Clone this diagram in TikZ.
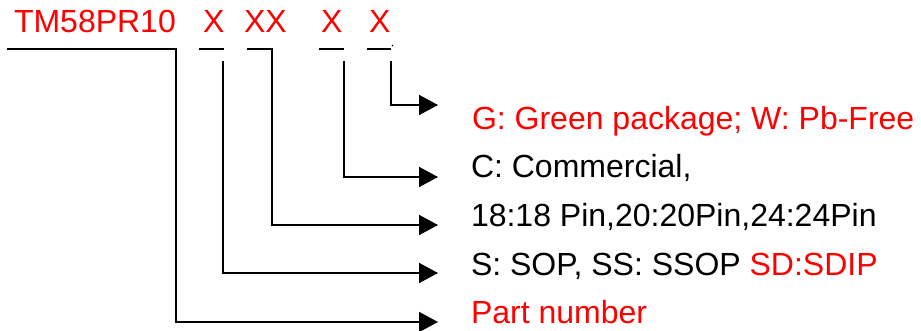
\documentclass[tikz,border=0pt]{standalone}
\usepackage{fontspec}
\setmainfont{Liberation Sans}
\usetikzlibrary{arrows.meta}
\definecolor{pnred}{RGB}{255,0,0}
\begin{document}
\begin{tikzpicture}[x=1pt,y=-1pt,
  txt/.style={anchor=base west,inner sep=0pt,outer sep=0pt,font=\fontsize{32}{38}\selectfont},
  redtxt/.style={txt,text=pnred},
  conn/.style={line width=1.6pt,line join=miter},
  arr/.style={conn,-{Triangle[length=19pt,width=20pt]}}]
\useasboundingbox (0,0) rectangle (921,331);
% header
\node[redtxt] (pn) at (14,33) {TM58PR10};
\node[redtxt] (x1) at (203,33) {X};
\node[redtxt] (x2) at (244,33) {XX};
\node[redtxt] (x3) at (321,33) {X};
\node[redtxt] (x4) at (369,33) {X};
% labels
\node[redtxt] (lg) at (472,130) {G: Green package; W: Pb-Free};
\node[txt] (lc) at (471,178) {C: Commercial,};
\node[txt] (lpin) at (471,227) {18:18 Pin,20:20Pin,24:24Pin};
\node[txt] (lpkg) at (471,275) {S: SOP, SS: SSOP \textcolor{pnred}{SD:SDIP}};
\node[redtxt] (lpart) at (471,323) {Part number};
% coordinates
\coordinate (a1) at (7,49);   \coordinate (b1) at (176,49);
\coordinate (e1) at (438,322);
\coordinate (a2) at (199,49); \coordinate (b2) at (224,49);
\coordinate (v2) at (223,61); \coordinate (e2) at (438,273);
\coordinate (a3) at (247,49); \coordinate (b3) at (272,49);
\coordinate (e3) at (438,225);
\coordinate (a4) at (319,49); \coordinate (b4) at (344,49);
\coordinate (v4) at (344,61); \coordinate (e4) at (438,177);
\coordinate (a5) at (367,49); \coordinate (b5) at (391,49);
\coordinate (v5) at (391,61); \coordinate (e5) at (438,105);
\coordinate (dot) at (392.5,45.5);
% connectors
\draw[arr] (a1) -- (b1) |- (e1);
\draw[conn] (a2) -- (b2);
\draw[arr] (v2) |- (e2);
\draw[arr] (a3) -- (b3) |- (e3);
\draw[conn] (a4) -- (b4);
\draw[arr] (v4) |- (e4);
\draw[conn] (a5) -- (b5);
\draw[arr] (v5) |- (e5);
\fill (dot) circle (0.9);
\end{tikzpicture}
\end{document}
